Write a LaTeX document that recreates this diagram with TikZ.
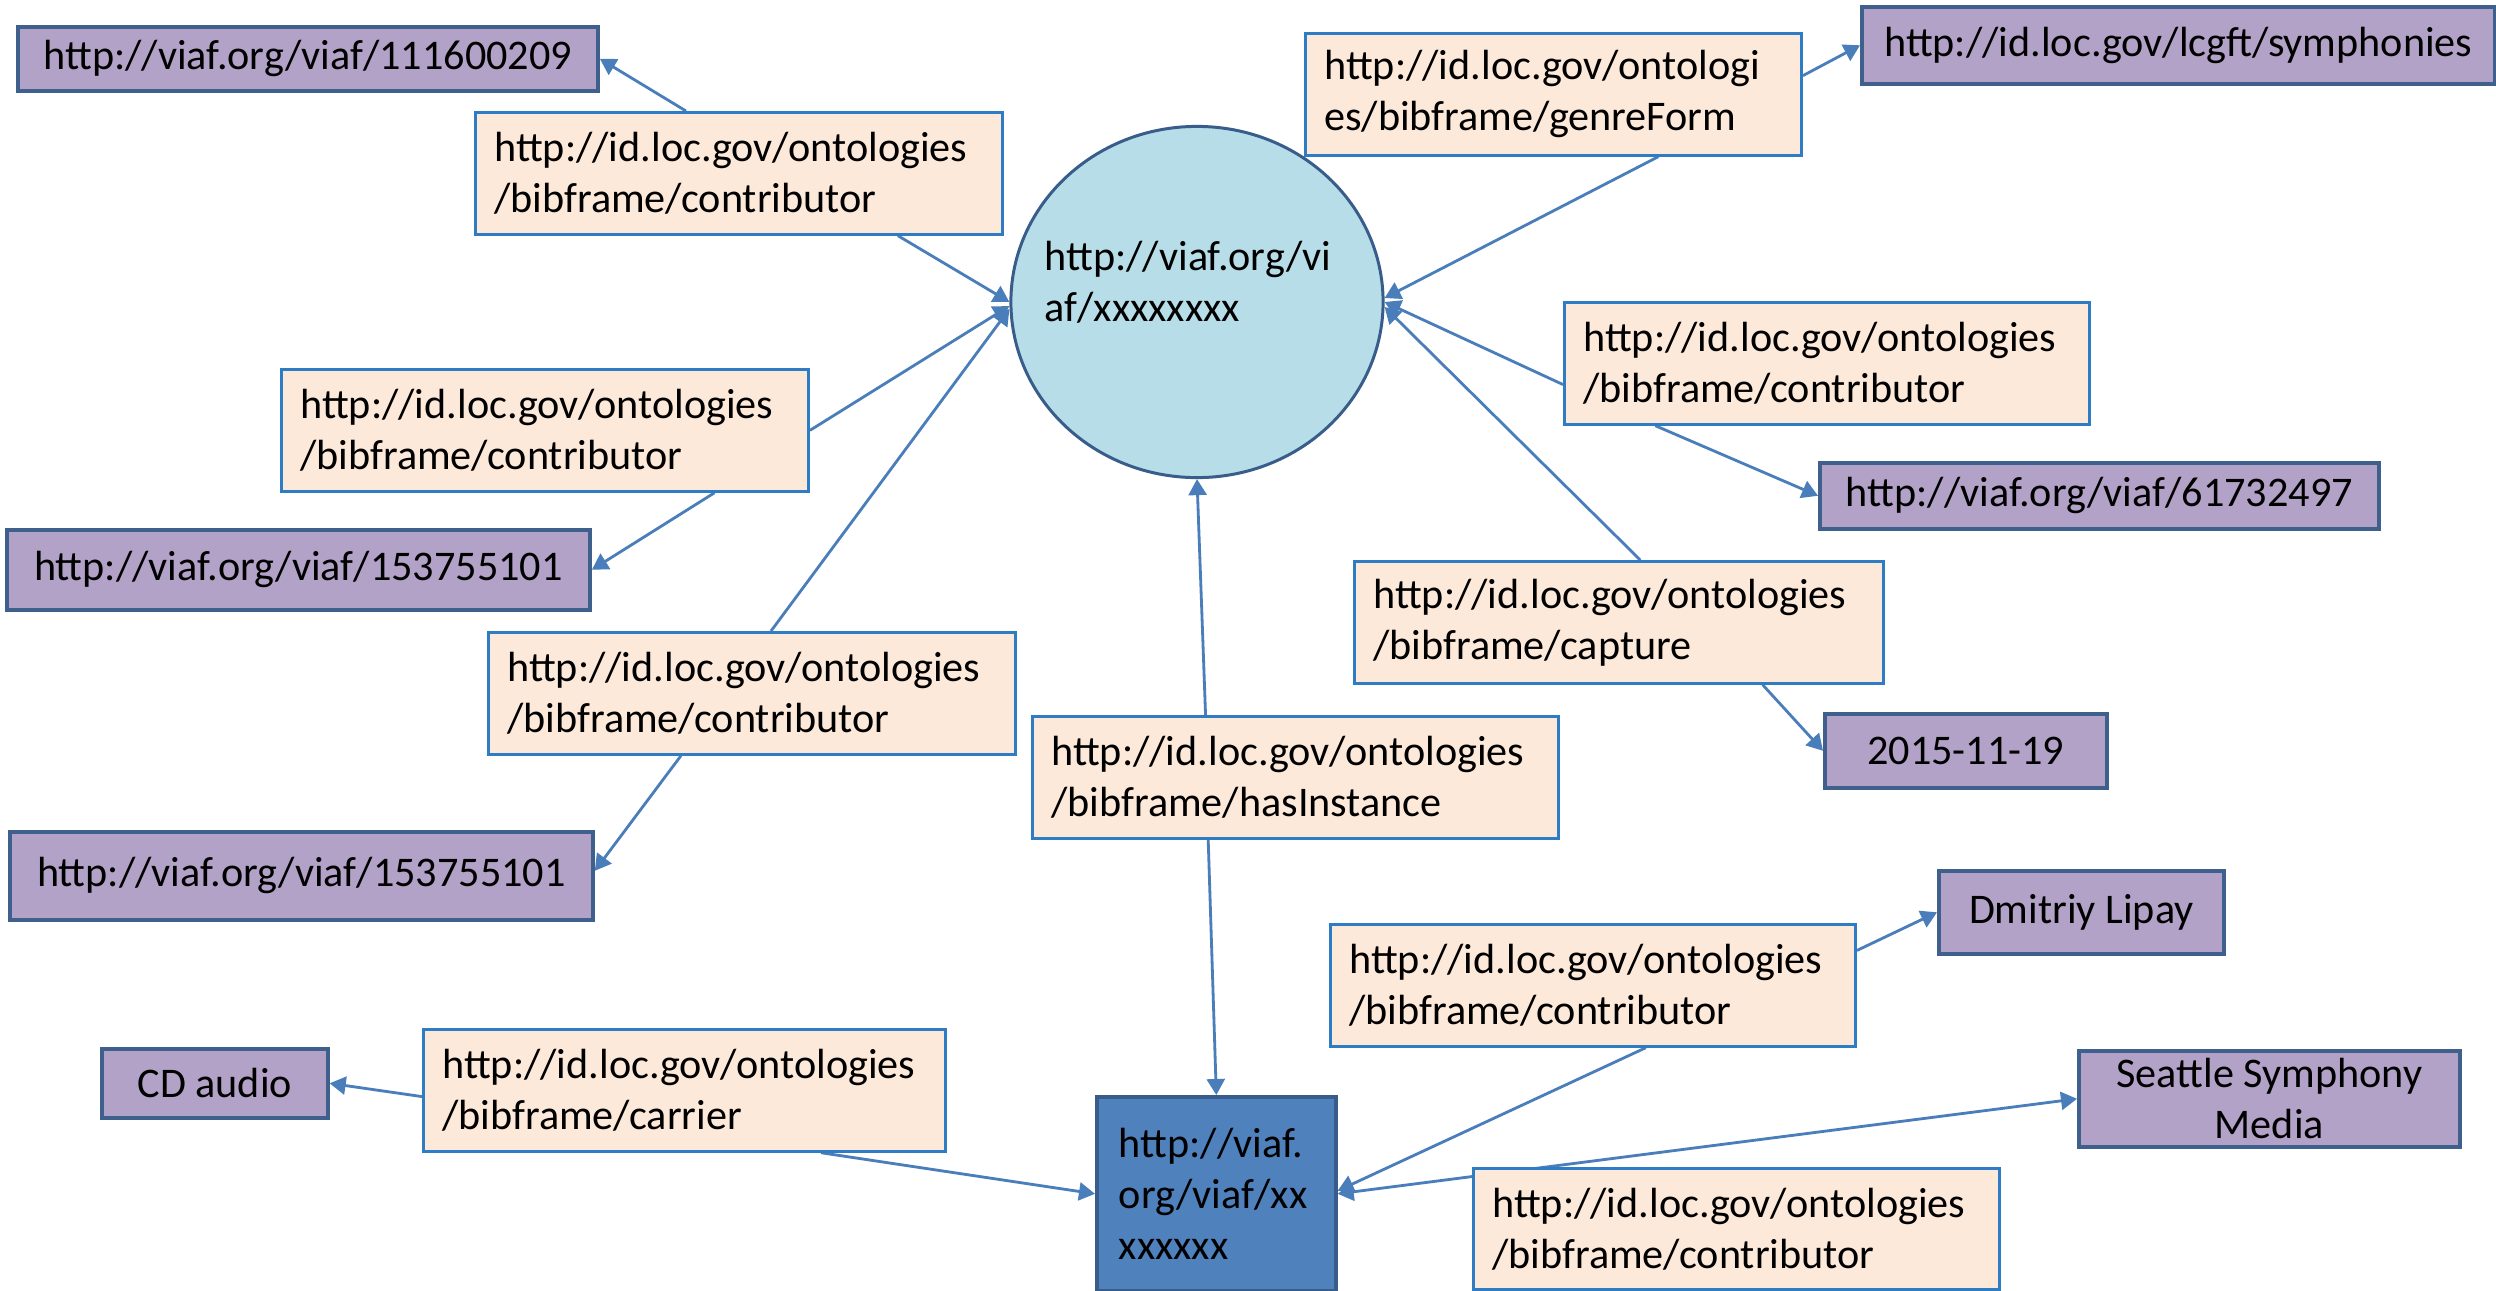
\documentclass[tikz,border=0pt]{standalone}
\usepackage{fontspec}
\setmainfont{Carlito}
\usetikzlibrary{arrows.meta,calc,shapes.geometric,backgrounds}
\definecolor{pinkfill}{HTML}{FDE9D9}
\definecolor{pinkdraw}{HTML}{2E7CC4}
\definecolor{purpfill}{HTML}{B3A2C7}
\definecolor{purpdraw}{HTML}{3F5F8C}
\definecolor{circfill}{HTML}{B7DEE8}
\definecolor{circdraw}{HTML}{385D8A}
\definecolor{xfill}{HTML}{4F81BD}
\definecolor{arrcol}{HTML}{4A7EBB}
\begin{document}
\begin{tikzpicture}[x=0.01cm,y=-0.01cm,
  txt/.style={font=\fontsize{12pt}{14.5pt}\selectfont},
  pink/.style={txt, draw=pinkdraw, fill=pinkfill, line width=0.75pt, anchor=north west,
    align=left, inner xsep=0.19cm, inner ysep=0pt, minimum height=1.22cm, text width=#1},
  pink/.default=4.89cm,
  purp/.style={txt, draw=purpdraw, fill=purpfill, line width=1pt, anchor=north west,
    align=center, inner sep=0pt},
  arr/.style={draw=arrcol, line width=0.8pt, -{Triangle[length=0.16cm,width=0.18cm]}},
]
\useasboundingbox (0,0) rectangle (2496,1290);

% purple value boxes
\node[purp, minimum width=5.80cm, minimum height=0.64cm] (P1) at (16,25) {http://viaf.org/viaf/111600209};
\node[purp, minimum width=6.33cm, minimum height=0.77cm] (P2) at (1860,5) {http://id.loc.gov/lcgft/symphonies};
\node[purp, minimum width=5.83cm, minimum height=0.80cm] (P3) at (5,528) {http://viaf.org/viaf/153755101};
\node[purp, minimum width=5.59cm, minimum height=0.66cm] (P4) at (1818,461) {http://viaf.org/viaf/61732497};
\node[purp, minimum width=2.82cm, minimum height=0.74cm] (P5) at (1823,712) {2015-11-19};
\node[purp, minimum width=5.83cm, minimum height=0.88cm] (P6) at (8,830) {http://viaf.org/viaf/153755101};
\node[purp, minimum width=2.85cm, minimum height=0.83cm] (P7) at (1937,869) {Dmitriy Lipay};
\node[purp, minimum width=2.26cm, minimum height=0.69cm] (P8) at (100,1047) {CD audio};
\node[purp, minimum width=3.81cm, minimum height=0.96cm] (P9) at (2077,1049) {Seattle Symphony\\Media};

% pink property boxes
\node[pink] (B1) at (474,111) {http://id.loc.gov/ontologies\\/bibframe/contributor};
\node[pink=4.58cm] (B2) at (1304,32) {http://id.loc.gov/ontologi\\es/bibframe/genreForm};
\node[pink] (B3) at (280,368) {http://id.loc.gov/ontologies\\/bibframe/contributor};
\node[pink=4.87cm] (B4) at (1563,301) {http://id.loc.gov/ontologies\\/bibframe/contributor};
\node[pink=4.91cm] (B5) at (1353,560) {http://id.loc.gov/ontologies\\/bibframe/capture};
\node[pink] (B6) at (487,631) {http://id.loc.gov/ontologies\\/bibframe/contributor};
\node[pink=4.88cm] (B7) at (1031,715) {http://id.loc.gov/ontologies\\/bibframe/hasInstance};
\node[pink=4.87cm] (B8) at (1329,923) {http://id.loc.gov/ontologies\\/bibframe/contributor};
\node[pink=4.84cm] (B9) at (422,1028) {http://id.loc.gov/ontologies\\/bibframe/carrier};
\node[pink=4.88cm, minimum height=1.21cm] (B10) at (1472,1167) {http://id.loc.gov/ontologies\\/bibframe/contributor};

% central work (circle) and instance (box)
\node[ellipse, draw=circdraw, fill=circfill, line width=0.85pt, minimum width=3.72cm,
  minimum height=3.51cm, inner sep=0pt] (C) at (1197,302) {};
\node[txt, anchor=west, align=left, inner sep=0pt] (Ct) at (1044,282) {http://viaf.org/vi\\af/xxxxxxxx};
\node[txt, draw=circdraw, fill=xfill, line width=1pt, anchor=north west, align=left,
  minimum width=2.39cm, minimum height=1.94cm, text width=1.95cm, inner xsep=0.22cm,
  inner ysep=0pt] (X) at (1095,1095) {http://viaf.\\org/viaf/xx\\xxxxxx};

\coordinate (B10s) at ($(X.east)!0.22!(P9.west)$);

\begin{scope}[on background layer]
\fill[white] (0,0) rectangle (2496,1290);
\draw[arr] ($(B1.north west)!0.40!(B1.north east)$) -- (P1.east);
\draw[arr] ($(B1.south west)!0.80!(B1.south east)$) -- (C.west);
\draw[arr] (B3.east) -- ($(C.west)+(0,4)$);
\draw[arr] ($(B3.south west)!0.82!(B3.south east)$) -- (P3.east);
\draw[arr] ($(B6.north west)!0.536!(B6.north east)$) -- ($(C.west)+(0,7)$);
\draw[arr] ($(B6.south west)!0.366!(B6.south east)$) -- ($(P6.east)+(0,-5)$);
\draw[arr] ($(B2.south west)!0.71!(B2.south east)$) -- ($(C.east)+(0,-4)$);
\draw[arr] ($(B2.north east)!0.35!(B2.south east)$) -- (P2.west);
\draw[arr] ($(B4.north west)!0.67!(B4.south west)$) -- (C.east);
\draw[arr] ($(B4.south west)!0.175!(B4.south east)$) -- (P4.west);
\draw[arr] ($(B5.north west)!0.54!(B5.north east)$) -- ($(C.east)+(0,5)$);
\draw[arr] ($(B5.south west)!0.77!(B5.south east)$) -- (P5.west);
\draw[arr] ($(B7.north west)!0.33!(B7.north east)$) -- (C.south);
\draw[arr] ($(B7.south west)!0.335!(B7.south east)$) -- (X.north);
\draw[arr] ($(B9.north west)!0.55!(B9.south west)$) -- (P8.east);
\draw[arr] ($(B9.south west)!0.76!(B9.south east)$) -- (X.west);
\draw[arr] ($(B8.north east)!0.22!(B8.south east)$) -- (P7.west);
\draw[arr] ($(B8.south west)!0.60!(B8.south east)$) -- ($(X.east)+(0,-3)$);
\draw[arr] (B10s) -- (X.east);
\draw[arr] (B10s) -- (P9.west);
\end{scope}
\end{tikzpicture}
\end{document}
